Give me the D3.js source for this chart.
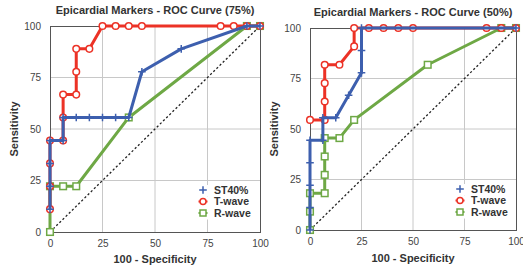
<!DOCTYPE html>
<html><head><meta charset="utf-8">
<script src="https://cdn.jsdelivr.net/npm/d3@7"></script>
<style>body{margin:0;background:#fff}svg{display:block;font-family:"Liberation Sans",Arial,sans-serif}</style>
</head><body><svg id="c" width="523" height="272"></svg>
<script>
const ticks = [0, 25, 50, 75, 100];
const seriesNames = ["ST40%", "T-wave", "R-wave"];
const titles = ["Epicardial Markers - ROC Curve (75%)", "Epicardial Markers - ROC Curve (50%)"];
// Panel 1 (75%)
const st40_75 = [[0,11.1],[0,22.2],[0,33.3],[0,44.4],[6.25,44.4],[6.25,55.6],[12.5,55.6],[18.75,55.6],[25,55.6],[31.25,55.6],[37.5,55.6],[43.75,77.8],[62.5,88.9],[93.75,100],[100,100]];
const twave_75 = [[0,11.1],[0,22.2],[0,33.3],[0,44.4],[6.25,44.4],[6.25,55.6],[6.25,66.7],[12.5,66.7],[12.5,77.8],[12.5,88.9],[18.75,88.9],[25,100],[31.25,100],[37.5,100],[43.75,100],[81.25,100],[87.5,100],[93.75,100],[100,100]];
const rwave_75 = [[0,0],[0,22.2],[6.25,22.2],[12.5,22.2],[37.5,55.6],[93.75,100],[100,100]];
// Panel 2 (50%)
const st40_50 = [[0,0],[0,11.1],[0,22.2],[0,33.3],[0,44.4],[6.25,44.4],[6.25,55.6],[12.5,55.6],[18.75,66.7],[25,77.8],[25,88.9],[25,100],[100,100]];
const twave_50 = [[0,54.5],[7.14,54.5],[7.14,63.6],[7.14,72.7],[7.14,81.8],[14.29,81.8],[21.43,90.9],[21.43,100],[28.57,100],[35.71,100],[42.86,100],[50,100],[85.71,100],[92.86,100],[100,100]];
const rwave_50 = [[0,0],[0,9.1],[0,18.2],[7.14,18.2],[7.14,27.3],[7.14,36.4],[7.14,45.5],[14.29,45.5],[21.43,54.5],[57.14,81.8],[92.86,100],[100,100]];

const colors = {"ST40%":"#3d5fae","T-wave":"#ec3226","R-wave":"#6ea845"};
const svg = d3.select("#c");

const panels = [
  {title: titles[0], data: {"ST40%":st40_75,"T-wave":twave_75,"R-wave":rwave_75},
   x0:50, x1:260, yt:26, yb:232, titleY:14, ylabX:14, xlabY:263, legX:203, legY:190},
  {title: titles[1], data: {"ST40%":st40_50,"T-wave":twave_50,"R-wave":rwave_50},
   x0:310, x1:516, yt:28, yb:230, titleY:16, ylabX:274, xlabY:262, legX:460, legY:189}
];

panels.forEach(p => {
  const x = d3.scaleLinear().domain([0,100]).range([p.x0,p.x1]);
  const y = d3.scaleLinear().domain([0,100]).range([p.yb,p.yt]);
  const g = svg.append("g");
  // grid
  g.append("g").selectAll("line").data(ticks.slice(1,4)).join("line")
    .attr("x1",d=>x(d)).attr("x2",d=>x(d)).attr("y1",p.yt).attr("y2",p.yb)
    .attr("stroke","#c8c8c8").attr("stroke-width",1);
  g.append("g").selectAll("line").data(ticks.slice(1,4)).join("line")
    .attr("y1",d=>y(d)).attr("y2",d=>y(d)).attr("x1",p.x0).attr("x2",p.x1)
    .attr("stroke","#c8c8c8").attr("stroke-width",1);
  // axes labels
  const xa = g.append("g").attr("transform",`translate(0,${p.yb})`)
    .call(d3.axisBottom(x).tickValues(ticks).tickSize(0).tickPadding(8));
  const ya = g.append("g").attr("transform",`translate(${p.x0},0)`)
    .call(d3.axisLeft(y).tickValues(ticks).tickSize(0).tickPadding(9));
  [xa,ya].forEach(a=>{a.select(".domain").remove();
    a.selectAll("text").attr("font-size",10).attr("fill","#444").attr("font-family","Liberation Sans, Arial, sans-serif");});
  // diagonal
  g.append("line").attr("x1",x(0)).attr("y1",y(0)).attr("x2",x(100)).attr("y2",y(100))
    .attr("stroke","#222").attr("stroke-width",1.3).attr("stroke-dasharray","2.2,2.2");
  // frame
  g.append("rect").attr("x",p.x0+0.5).attr("y",p.yt+0.5).attr("width",p.x1-p.x0).attr("height",p.yb-p.yt)
    .attr("fill","none").attr("stroke","#555").attr("stroke-width",1);
  // series: draw order R, T, ST
  const line = d3.line().x(d=>x(d[0])).y(d=>y(d[1]));
  ["R-wave","T-wave","ST40%"].forEach(name=>{
    const data = p.data[name], c = colors[name];
    g.append("path").datum(data).attr("d",line).attr("fill","none")
      .attr("stroke",c).attr("stroke-width",3).attr("stroke-linejoin","round");
    const m = g.append("g");
    if (name==="T-wave") {
      m.selectAll("circle").data(data).join("circle").attr("cx",d=>x(d[0])).attr("cy",d=>y(d[1]))
        .attr("r",3.3).attr("fill","#fff").attr("stroke",c).attr("stroke-width",1.5);
    } else if (name==="R-wave") {
      m.selectAll("rect").data(data).join("rect").attr("x",d=>x(d[0])-3.3).attr("y",d=>y(d[1])-3.3)
        .attr("width",6.6).attr("height",6.6).attr("fill","#fff").attr("stroke",c).attr("stroke-width",1.5);
    } else {
      m.selectAll("path").data(data).join("path")
        .attr("d",d=>{const cx=x(d[0]),cy=y(d[1]);return `M${cx-3.8},${cy}H${cx+3.8}M${cx},${cy-3.8}V${cy+3.8}`;})
        .attr("stroke",c).attr("stroke-width",1.5);
    }
  });
  // title
  g.append("text").attr("x",(p.x0+p.x1)/2).attr("y",p.titleY).attr("text-anchor","middle")
    .attr("font-size",11).attr("font-weight","bold").attr("fill","#333").text(p.title);
  g.append("text").attr("x",(p.x0+p.x1)/2).attr("y",p.xlabY).attr("text-anchor","middle")
    .attr("font-size",11).attr("font-weight","bold").attr("fill","#333").text("100 - Specificity");
  g.append("text").attr("transform",`translate(${p.ylabX},${(p.yt+p.yb)/2}) rotate(-90)`)
    .attr("text-anchor","middle").attr("dy","0.35em")
    .attr("font-size",11).attr("font-weight","bold").attr("fill","#333").text("Sensitivity");
  // legend
  const lg = g.append("g");
  seriesNames.forEach((name,i)=>{
    const cy = p.legY + i*11.5, cx = p.legX, c = colors[name];
    lg.append("rect").attr("x",cx-6).attr("y",cy-5).attr("width",48).attr("height",11.5).attr("fill","#fff");
    if (name==="T-wave") {
      lg.append("line").attr("x1",cx-4.5).attr("x2",cx+4.5).attr("y1",cy).attr("y2",cy).attr("stroke",c).attr("stroke-width",2);
      lg.append("circle").attr("cx",cx).attr("cy",cy).attr("r",3).attr("fill","#fff").attr("stroke",c).attr("stroke-width",1.5);
    } else if (name==="R-wave") {
      lg.append("line").attr("x1",cx-4.5).attr("x2",cx+4.5).attr("y1",cy).attr("y2",cy).attr("stroke",c).attr("stroke-width",2);
      lg.append("rect").attr("x",cx-3).attr("y",cy-3).attr("width",6).attr("height",6).attr("fill","#fff").attr("stroke",c).attr("stroke-width",1.5);
    } else {
      lg.append("path").attr("d",`M${cx-3.8},${cy}H${cx+3.8}M${cx},${cy-3.8}V${cy+3.8}`).attr("stroke",c).attr("stroke-width",1.5);
    }
    lg.append("text").attr("x",cx+11).attr("y",cy).attr("dy","0.35em").attr("font-size",10.5)
      .attr("font-weight","bold").attr("fill","#333").text(name);
  });
});
</script></body></html>
